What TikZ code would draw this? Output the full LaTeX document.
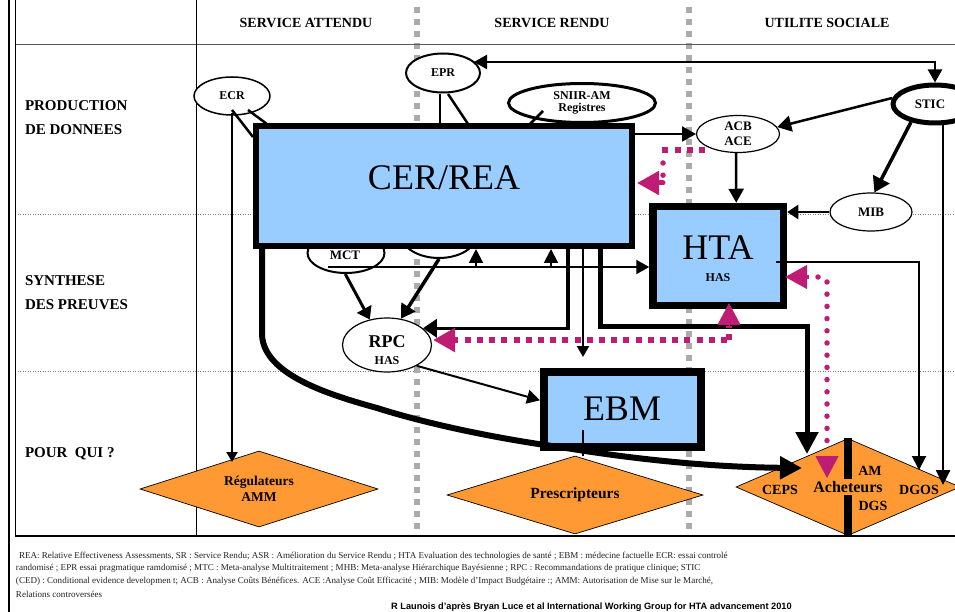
\documentclass[tikz,border=0pt]{standalone}
\usepackage{fontspec}
\setmainfont{Liberation Serif}
\setsansfont{Liberation Sans}
\usetikzlibrary{arrows.meta,shapes.geometric}
\definecolor{boxblue}{HTML}{99CCFF}
\definecolor{diaorange}{HTML}{FF9933}
\definecolor{magentaline}{HTML}{BF1D74}
\definecolor{grayrule}{HTML}{ABABAB}
\definecolor{foot}{HTML}{222222}
\newcommand{\fs}[1]{\fontsize{#1}{#1}\selectfont\bfseries}
\tikzset{
  x=1pt,y=-1pt,
  txt/.style={inner sep=0pt,outer sep=0pt,align=center,font=\fs{#1}},
  head/.style={txt=#1,anchor=west},
  bigbox/.style n args={3}{draw=black,fill=boxblue,line width=#1,minimum width=#2,minimum height=#3,inner sep=0pt},
  oval/.style n args={3}{ellipse,draw=black,fill=white,line width=#1,minimum width=#2,minimum height=#3,inner sep=0pt,align=center},
  dia/.style n args={2}{diamond,draw=black,line width=.7pt,fill=diaorange,minimum width=#1,minimum height=#2,aspect=2.4,inner sep=0pt,align=center},
  arr/.style n args={3}{draw=black,line width=#1,-{Triangle[length=#2,width=#3]}},
  biarr/.style n args={3}{draw=black,line width=#1,{Triangle[length=#2,width=#3]}-{Triangle[length=#2,width=#3]}},
  magsq/.style={draw=magentaline,line width=6pt,dash pattern=on 6pt off 6.2pt},
  magrd/.style={draw=magentaline,line width=5.5pt,line cap=round,dash pattern=on 0pt off 12.2pt},
  maghd/.style={-{Triangle[length=22pt,width=23pt,magentaline]}},
  rowline/.style={draw=gray,line width=.5pt,dotted},
  gray rule/.style={draw=grayrule,line width=6pt,dash pattern=on 6pt off 6pt},
  foottxt/.style={inner sep=0pt,outer sep=0pt,anchor=west,text=foot,font=\fontsize{9.05}{9.05}\selectfont},
}
\begin{document}
\begin{tikzpicture}
\useasboundingbox (0,0) rectangle (955,612);
\clip (0,0) rectangle (955,612);
\fill[white] (0,0) rectangle (955,612);
% table grid
\draw[rowline] (15,214) -- (955,214);
\draw[rowline] (15,371) -- (955,371);
\draw[gray rule] (416.5,7) -- (416.5,536);
\draw[gray rule] (688.5,7) -- (688.5,536);
\draw[line width=1pt,draw=black!65] (15,45) -- (955,45);
\draw[line width=1.2pt] (15,536) -- (955,536);
\draw[line width=2.5pt] (9,0) -- (9,612);
\draw[line width=1pt] (15.5,0) -- (15.5,536);
\draw[line width=1pt] (196.5,0) -- (196.5,536);
% headings
\node[txt=14] (h1) at (306,23) {SERVICE ATTENDU};
\node[txt=14] (h2) at (552,23) {SERVICE RENDU};
\node[txt=14] (h3) at (827,23) {UTILITE SOCIALE};
\node[head=15] (r1) at (25,106) {PRODUCTION};
\node[head=15] (r2) at (25,130) {DE DONNEES};
\node[head=15] (r3) at (25,281) {SYNTHESE};
\node[head=15] (r4) at (25,305) {DES PREUVES};
\node[head=15] (r5) at (25,454) {POUR\ \ QUI ?};
% diamonds
\node[dia={238pt}{76pt},font=\fs{13.5}] (reg) at (259,489) {Régulateurs\\[3pt]AMM};
\node[dia={256pt}{78pt},font=\fs{15.5}] (pre) at (575,495) {Prescripteurs};
\node[dia={224pt}{97pt}] (ach) at (848,487) {};
% ellipses
\node[oval={1.5pt}{76pt}{38pt},font=\fs{12}] (ecr) at (232,96) {ECR};
\node[oval={2pt}{74pt}{39pt},font=\fs{12}] (epr) at (443,73) {EPR};
\node[oval={3pt}{147pt}{39pt},font=\fs{12}] (sni) at (582,103) {SNIIR-AM\\Registres};
\node[oval={1.2pt}{83pt}{37pt},font=\fs{13}] (acb) at (738,134) {ACB\\[2pt]ACE};
\node[oval={1.2pt}{82pt}{38pt},font=\fs{13}] (mib) at (871,212) {MIB};
\node[oval={5pt}{84pt}{38pt},font=\fs{13}] (stic) at (935,104) {\hspace*{-10pt}STIC};
\node[oval={2pt}{77pt}{40pt}] (mct) at (346,253) {};
\node[txt=13] (mcttxt) at (345,255) {MCT};
\node[oval={2pt}{75pt}{46pt}] (mhb) at (439,235) {};
\node[oval={1.2pt}{89pt}{54pt}] (rpc) at (387,345) {};
\node[txt=18] (rpc1) at (387,342) {RPC};
\node[txt=12] (rpc2) at (387,361) {HAS};
% boxes
\node[bigbox={6pt}{376pt}{120pt},font=\fontsize{36}{36}\selectfont] (cer) at (444,186) {};
\node[inner sep=0pt,font=\fontsize{36}{36}\selectfont] (certxt) at (444,178) {CER/REA};
\node[bigbox={7.5pt}{130.5pt}{99pt}] (hta) at (718.25,256) {};
\node[inner sep=0pt,font=\fontsize{36}{36}\selectfont] (htatxt) at (718,248) {HTA};
\node[txt=12] (has) at (718,278) {HAS};
\node[bigbox={8pt}{157pt}{75.5pt}] (ebm) at (622.5,409.25) {};
\node[inner sep=0pt,font=\fontsize{36}{36}\selectfont] (ebmtxt) at (622,409) {EBM};
% free ends
\coordinate (ecrA) at (232,113);
\coordinate (ecrB) at (232,110);
\coordinate (ecrC) at (248,110);
\coordinate (cerTL1) at (253,137);
\coordinate (cerTL2) at (267,124);
\coordinate (regT) at (232,462);
\coordinate (sniB) at (543,111);
\coordinate (sniC) at (530,124);
\coordinate (eprB) at (440,94);
\coordinate (eprC) at (448,94);
\coordinate (cerE1) at (440,124);
\coordinate (cerE2) at (468,124);
\coordinate (acbW) at (696,134);
\coordinate (cerR) at (635,134);
% connectors
\draw[line width=2.5pt] (eprB) -- (cerE1);
\draw[line width=2.5pt] (eprC) -- (cerE2);
\draw[line width=2.5pt] (ecrB) -- (cerTL1);
\draw[line width=2.5pt] (ecrC) -- (cerTL2);
\draw[line width=2.5pt] (sniB) -- (sniC);
\draw[arr={2.5pt}{10pt}{11pt}] (ecrA) -- (regT);
\coordinate (eprR) at (474,62);
\coordinate (sticT) at (935,62);
\draw[biarr={2.5pt}{13pt}{14pt}] (eprR) -- (sticT) -- (stic.north -| sticT);
\draw[arr={2pt}{14pt}{15pt}] (cerR) -- (acbW);
\draw[arr={2.5pt}{14pt}{16pt}] (stic.172) -- (acb.10);
\draw[arr={3.5pt}{15pt}{18pt}] (stic.217) -- (mib.80);
\draw[arr={2.5pt}{14pt}{15pt}] ([xshift=-2pt]acb.south) -- ([xshift=18pt]hta.north);
\draw[arr={2pt}{11pt}{14pt}] (mib.west) -- (hta.east |- mib.west);
% out of HTA
\coordinate (htaO) at (776,262);
\coordinate (dgosT) at (919,470);
\draw[arr={2pt}{14pt}{14pt}] (htaO) -| (dgosT);
\coordinate (sticO) at (943,122);
\coordinate (dgosR) at (943,485);
\draw[arr={2.5pt}{15pt}{14pt}] (sticO) -- (dgosR);
% MCT line
\coordinate (mctL) at (328,267);
\draw[arr={2pt}{13pt}{14pt}] (mctL) -- (hta.west |- mctL);
\draw[arr={2pt}{14pt}{14pt}] (476,267) -- (476,249);
\draw[arr={2pt}{14pt}{14pt}] (551,267) -- (551,249);
\draw[arr={3pt}{12pt}{16pt},draw=black] (mct.268) -- (rpc.124);
\draw[arr={3.5pt}{14pt}{16pt}] (mhb.270) -- (rpc.62);
\draw[arr={3.5pt}{14pt}{18pt}] ([xshift=124pt]cer.south) |- (rpc.25);
\draw[arr={2pt}{11pt}{12pt}] ([xshift=139pt]cer.south) -- ([xshift=139pt,yshift=-108pt]cer.south);
\draw[arr={5pt}{22pt}{22pt}] ([xshift=156pt]cer.south) |- (807,326) -- (807,454);
\draw[arr={2pt}{13pt}{14pt}] (rpc.-35) -- ([yshift=9pt]ebm.west);
\draw[line width=2pt] ([xshift=-39.5pt,yshift=21pt]ebm.south) -- (pre.north -| 583,0);
\coordinate (achW) at (802,468);
\draw[arr={6pt}{22pt}{22pt}] ([xshift=-182pt]cer.south) -- (262,335) .. controls (264,375) and (330,395) .. (377,408) .. controls (440,428) and (520,442) .. (560,447) .. controls (620,457) and (700,467) .. (achW);
% bars
\draw[line width=8pt] (847.5,438) -- (847.5,479);
\draw[line width=8pt] (847.5,495) -- (847.5,535);
% magenta
\coordinate (acbM) at (705,150);
\draw[magsq] (acbM) -- (662,150);
\draw[magrd] (663,163) -- (663,176);
\draw[magentaline,line width=5pt,line cap=round,maghd] (663,183) -- (637,183);
\draw[magsq] (727,340) -- (460,340);
\draw[magentaline,line width=6pt,maghd] (458,340) -- (433,340);
\draw[magsq] (729,340) -- (729,326);
\draw[magentaline,line width=1pt,maghd] (729,326) -- (729,303);
\draw[magentaline,line width=4pt,maghd] (809,277) -- (785,277);
\draw[magrd] (818,277) -- (827,279) -- (827,451);
\draw[magentaline,line width=1pt,maghd] (827,456) -- (827,478);
% texts on top
\node[inner sep=0pt,font=\fontsize{36}{36}\selectfont] at (0,-100) {};
\node[txt=14] (ceps) at (780,490) {CEPS};
\node[txt=16] (acht) at (848,487) {Acheteurs};
\node[txt=14] (am) at (870,471) {AM};
\node[txt=14] (dgs) at (873,506) {DGS};
\node[txt=14] (dgos) at (919,490) {DGOS};
% footer
\node[foottxt] (f1) at (19,556) {REA: Relative Effectiveness Assessments, SR : Service Rendu; ASR : Amélioration du Service Rendu ; HTA Evaluation des technologies de santé ; EBM : médecine factuelle ECR: essai controlé};
\node[foottxt] (f2) at (16,568.5) {randomisé ; EPR essai pragmatique ramdomisé ; MTC : Meta-analyse Multitraitement ; MHB: Meta-analyse Hiérarchique Bayésienne ; RPC : Recommandations de pratique clinique; STIC};
\node[foottxt] (f3) at (16,581.5) {(CED) : Conditional evidence developmen t; ACB : Analyse Coûts Bénéfices. ACE :Analyse Coût Efficacité ; MIB: Modèle d'Impact Budgétaire :; AMM: Autorisation de Mise sur le Marché,};
\node[foottxt] (f4) at (16,594) {Relations controversées};
\node[inner sep=0pt,anchor=west,font=\sffamily\bfseries\fontsize{9.2}{9.2}\selectfont] (f5) at (391,607.5) {R Launois d'après Bryan Luce et al International Working Group for HTA advancement 2010};
\end{tikzpicture}
\end{document}
